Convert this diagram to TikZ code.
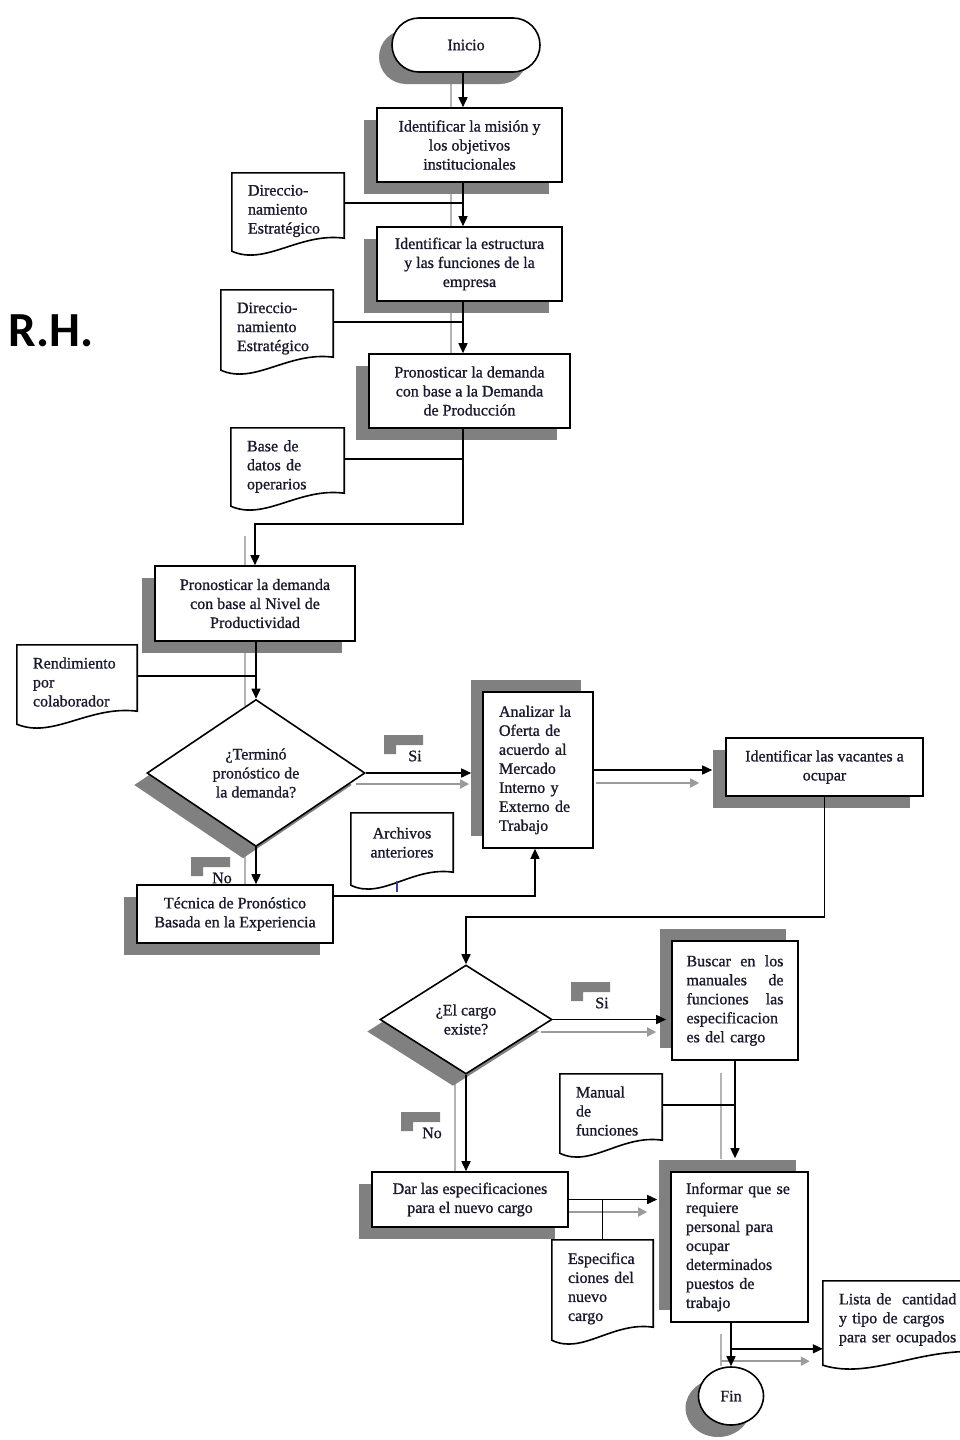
\documentclass[tikz,border=0pt]{standalone}
\usepackage{fontspec}
\setmainfont{Liberation Serif}
\newfontfamily\txtface{Liberation Serif}[FakeBold=1.0]
\newfontfamily\rhfont{Carlito}
\usetikzlibrary{shapes.geometric,shadows,arrows.meta,calc,backgrounds}
\definecolor{txt}{RGB}{25,25,45}
\definecolor{shd}{RGB}{128,128,128}
\definecolor{ghost}{RGB}{180,180,180}
\definecolor{ghostarr}{RGB}{155,155,155}
\definecolor{tickblue}{RGB}{60,60,170}
\tikzset{
  txtfont/.style={font=\txtface\fontsize{16}{19}\selectfont, text=txt},
  base/.style={txtfont, draw=black, line width=1.6pt, fill=white, inner sep=0pt},
  shBL/.style={drop shadow={shadow xshift=-13pt, shadow yshift=-12pt, fill=shd, opacity=1}},
  shTL/.style={drop shadow={shadow xshift=-12pt, shadow yshift=12pt, fill=shd, opacity=1}},
  procbox/.style={base, rectangle, align=center},
  leftbox/.style={base, rectangle, align=left},
  terminal/.style={base, rectangle, rounded corners=27pt, align=center},
  endellipse/.style={base, ellipse},
  decision/.style={base, diamond, align=center},
  docnode/.style={txtfont, rectangle, inner xsep=16pt, inner ysep=0pt, align=left},
  docline/.style={draw=black, line width=1.6pt},
  conn/.style={draw=black, line width=1.6pt},
  arr/.style={conn, -{Triangle[length=10pt,width=9pt]}},
  ghostline/.style={draw=ghost, line width=1.8pt},
  ghostarrow/.style={draw=ghostarr, line width=1.8pt, -{Triangle[length=9pt,width=9pt]}},
  lbl/.style={txtfont, inner sep=0pt},
}
% #1 node, #2 how far the text sits below the centre of the drawn shape
\newcommand\docoutline[2]{%
  \draw[docline] ($(#1.north west)+(0,-#2)$) -- ($(#1.north east)+(0,-#2)$) -- ($(#1.south east)+(0,-#2)$)
    .. controls ($(#1.south west)!0.6!(#1.south east)+(0,-6-#2)$) and ($(#1.south west)!0.3!(#1.south east)+(0,28-#2)$) ..
    ($(#1.south west)+(0,13-#2)$) -- cycle;}
\newcommand\lmark[1]{%
  \fill[shd] ($(#1)+(-31,-21)$) -- ($(#1)+(8,-21)$) -- ($(#1)+(8,-11)$) -- ($(#1)+(-19,-11)$)
    -- ($(#1)+(-19,-2)$) -- ($(#1)+(-31,-2)$) -- cycle;}
\begin{document}
\begin{tikzpicture}[x=1pt,y=-1pt]
\useasboundingbox (0,0) rectangle (959,1440);

% ---------- process nodes ----------
\node[terminal, shBL, minimum width=148pt, minimum height=54pt] (ini) at (466,45) {Inicio};
\node[procbox, shBL, minimum width=185pt, minimum height=74pt] (b1) at (469.5,145) {Identificar la misión y\\los objetivos\\institucionales};
\node[procbox, shBL, minimum width=185pt, minimum height=74pt] (b2) at (469.5,264) {Identificar la estructura\\y las funciones de la\\empresa};
\node[procbox, shBL, minimum width=201pt, minimum height=74pt] (b3) at (469.5,391) {Pronosticar la demanda\\con base a la Demanda\\de Producción};
\node[procbox, shBL, minimum width=200pt, minimum height=75pt] (b4) at (255,603.5) {Pronosticar la demanda\\con base al Nivel de\\Productividad};
\node[decision, shBL, minimum width=218pt, minimum height=147pt] (d1) at (256,773) {¿Terminó\\pronóstico de\\la demanda?};
\node[leftbox, shTL, text width=78pt, inner xsep=16pt, minimum height=156pt] (b5) at (538,770) {Analizar la\\Oferta de\\acuerdo al\\Mercado\\Interno y\\Externo de\\Trabajo};
\node[procbox, shBL, minimum width=196pt, minimum height=58pt] (b6) at (235,914) {Técnica de Pronóstico\\Basada en la Experiencia};
\node[procbox, shBL, minimum width=197pt, minimum height=58pt] (b7) at (824.5,767) {Identificar las vacantes a\\ocupar};
\node[decision, shBL, minimum width=172pt, minimum height=109pt] (d2) at (466,1019.5) {¿El cargo\\existe?};
\node[leftbox, shTL, text width=97pt, inner xsep=14.5pt, minimum height=119pt] (b8) at (735,1000.5) {Buscar\hfill en\hfill los\\manuales\hfill de\\funciones\hfill las\\especificacion\\es del cargo};
\node[procbox, shBL, minimum width=196pt, minimum height=55pt] (b10) at (470,1199.5) {Dar las especificaciones\\para el nuevo cargo};
\node[leftbox, shTL, text width=107pt, inner xsep=15pt, minimum height=150pt] (b9) at (739.5,1247) {Informar que se\\requiere\\personal para\\ocupar\\determinados\\puestos de\\trabajo};
\node[endellipse, shBL, minimum width=65pt, minimum height=58pt] (fin) at (731,1396) {Fin};

% ---------- documents ----------
\node[docnode, text width=80pt, minimum height=65pt] (doc1) at (288,211) {Direccio-\\namiento\\Estratégico};
\node[docnode, text width=80pt, minimum height=67pt] (doc2) at (277,328.5) {Direccio-\\namiento\\Estratégico};
\node[docnode, text width=81pt, minimum height=65pt] (doc3) at (287.5,466.5) {Base de\\datos de\\operarios};
\node[docnode, text width=88pt, minimum height=66pt] (doc4) at (77,682) {Rendimiento\\por\\colaborador};
\node[docnode, text width=70pt, minimum height=59pt, align=center] (doc5) at (402,842.5) {Archivos\\anteriores};
\node[docnode, text width=70pt, minimum height=66pt] (doc6) at (611,1111) {Manual\\de\\funciones};
\node[docnode, text width=69pt, minimum height=87pt] (doc7) at (602.5,1288.5) {Especifica\\ciones del\\nuevo\\cargo};
\node[docnode, text width=130pt, minimum height=71pt] (doc8) at (904,1319.5) {Lista de~ cantidad\\y tipo de cargos\\para ser ocupados};
\docoutline{doc1}{5.5}
\docoutline{doc2}{5}
\docoutline{doc3}{6}
\docoutline{doc4}{4}
\docoutline{doc5}{0}
\docoutline{doc6}{4}
\docoutline{doc7}{5}
\docoutline{doc8}{3}
\draw[tickblue, line width=1.5pt] ($(doc5.south west)!0.45!(doc5.south east)+(0,9)$) -- +(0,11);

% ---------- labels ----------
\node[lbl] (si1) at (415,756) {Si}; \lmark{si1}
\node[lbl] (no1) at (222,878) {No}; \lmark{no1}
\node[lbl] (si2) at (602,1003) {Si}; \lmark{si2}
\node[lbl] (no2) at (432,1133) {No}; \lmark{no2}
\node[font={\rhfont\bfseries\fontsize{49}{50}\selectfont}, text=black, inner sep=0pt] (rh) at (51,331) {R.H.};

% ---------- connectors ----------
\coordinate (sp) at (463,0);
\draw[arr] (ini.south -| sp) -- (b1.north -| sp);
\draw[arr] (b1.south -| sp) -- (b2.north -| sp);
\draw[arr] (b2.south -| sp) -- (b3.north -| sp);
\draw[conn] ($(doc1.east)+(0,-8)$) -- ($(doc1.east -| sp)+(0,-8)$);
\draw[conn] ($(doc2.east)+(0,-6.5)$) -- ($(doc2.east -| sp)+(0,-6.5)$);
\coordinate (bend1) at (463,524);
\draw[arr] (b3.south -| sp) -- (bend1) -| (b4.north);
\draw[conn] ($(doc3.east)+(0,-7.5)$) -- ($(doc3.east -| sp)+(0,-7.5)$);
\draw[arr] (b4.south -| d1.north) -- (d1.north);
\draw[conn] ($(doc4.east)+(0,-6)$) -- ($(doc4.east -| d1.north)+(0,-6)$);
\draw[arr] (d1.east) -- ($(d1.east -| b5.west)+(-11,0)$);
\draw[arr] (d1.south) -- (d1.south |- b6.north);
\draw[arr] ($(b6.east)+(0,-18)$) -| ($(b5.south)+(-3,0)$);
\draw[arr] (b5.east) -- ($(b5.east -| b7.west)+(-13,0)$);
\coordinate (bend2) at (824.5,917);
\draw[arr] (b7.south) -- (bend2) -| (d2.north);
\draw[arr] (d2.east) -- ($(d2.east -| b8.west)+(-5,0)$);
\draw[arr] (d2.south) -- (d2.south |- b10.north);
\draw[arr] (b8.south) -- ($(b8.south |- b9.north)+(0,-13)$);
\draw[conn] ($(doc6.east)+(0,-6)$) -- ($(doc6.east -| b8.south)+(0,-6)$);
\draw[arr] (b10.east) -- ($(b10.east -| b9.west)+(-13,0)$);
\draw[conn] ($(doc7.north)+(0,-5)$) -- (doc7.north |- b10.east);
\draw[arr] (b9.south -| fin.north) -- (fin.north);
\coordinate (br) at ($(b9.south -| fin.north)+(0,26)$);
\draw[arr] (br) -- (br -| doc8.west);

% ---------- ghost lines (behind) ----------
\begin{pgfonlayer}{background}
\draw[ghostline] ($(ini.south)+(-15,5)$) -- ($(ini.south |- b3.north)+(-15,0)$);
\draw[ghostline] ($(b4.north)+(-10,-29)$) -- ($(d1.north)+(-11,7)$);
\draw[ghostline] ($(d1.south)+(-11,5)$) -- ($(d1.south |- b6.north)+(-11,0)$);
\draw[ghostarrow] ($(d1.east)+(-10,11)$) -- ($(d1.east -| b5.west)+(-13,11)$);
\draw[ghostarrow] ($(b5.east)+(2,13)$) -- ($(b5.east -| b7.west)+(-26,13)$);
\draw[ghostarrow] ($(d2.east)+(-12,12.5)$) -- ($(d2.east -| b8.west)+(-15,12.5)$);
\draw[ghostline] ($(d2.south)+(-11,6)$) -- ($(d2.south |- b10.north)+(-11,0)$);
\draw[ghostline] ($(b8.south)+(-14,12)$) -- ($(b8.south |- b9.north)+(-14,-12)$);
\draw[ghostarrow] ($(b10.east)+(-12,12.5)$) -- ($(b10.east -| b9.west)+(-23,12.5)$);
\draw[ghostline] ($(b9.south -| fin.north)+(-10,11)$) -- ($(fin.north)+(-10,0)$);
\draw[ghostarrow] ($(fin.north)+(-10,-5)$) -- ($(fin.north -| doc8.west)+(-13,-5)$);
\end{pgfonlayer}
\end{tikzpicture}
\end{document}
